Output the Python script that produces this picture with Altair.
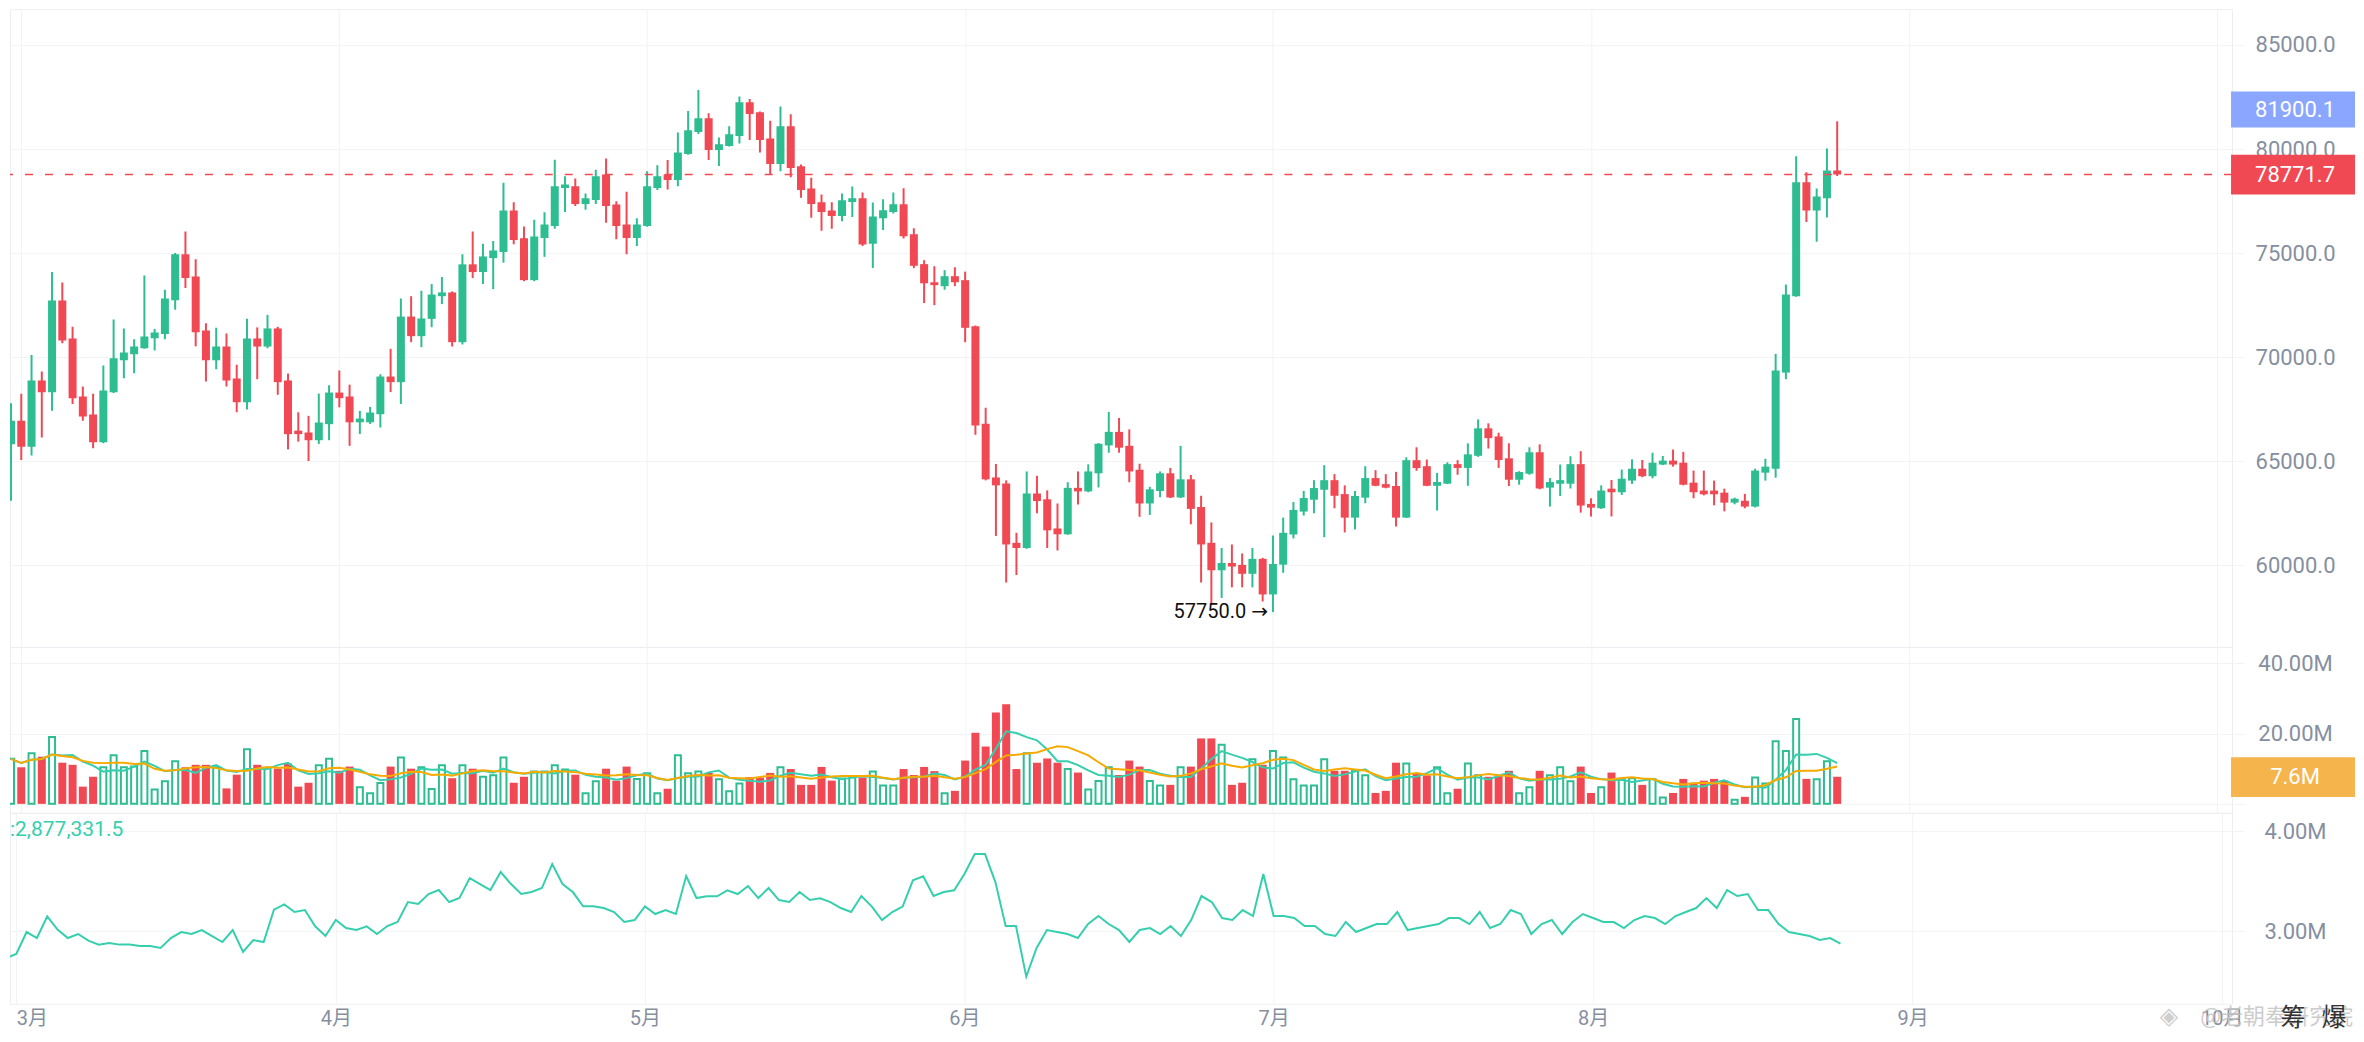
import altair as alt
import pandas as pd

# ---------------- data ----------------
day_index = list(range(1, 180))

opens = [65820, 66950, 65700, 68880, 68320, 72720, 70900, 68110, 67240, 65910,
         68320, 69850, 70140, 70430, 70910, 71110, 72740, 74950, 73880, 71280,
         69850, 70510, 68970, 67830, 70900, 70510, 71380, 68880, 66470, 66380,
         66010, 66780, 68300, 68110, 66870, 66870, 67260, 69070, 68800, 71950,
         71010, 71840, 72930, 73110, 70720, 74460, 74090, 74760, 75050, 77050,
         75710, 73700, 75720, 76300, 78130, 78210, 77360, 77550, 78780, 77340,
         76380, 75720, 76300, 78130, 78780, 78510, 79760, 80820, 81480, 79950,
         80150, 80630, 82250, 81770, 80510, 79280, 81090, 79170, 78110, 77440,
         77050, 76780, 77450, 77640, 75450, 76680, 76970, 77350, 75910, 74470,
         73600, 73410, 73890, 73700, 71490, 66800, 64220, 63930, 61080, 60830,
         63450, 63170, 61770, 61490, 63720, 63550, 64420, 65760, 66410, 65740,
         64590, 62970, 63570, 64420, 63260, 64130, 62800, 61080, 59760, 60110,
         60020, 59590, 60310, 58600, 60030, 61480, 62580, 63150, 63630, 64090,
         63420, 62290, 63250, 64190, 63900, 63810, 62290, 65050, 64760, 63820,
         63920, 64860, 64680, 65260, 66580, 66190, 65140, 64110, 64400, 65430,
         63730, 63920, 63920, 64860, 62950, 62740, 63680, 63510, 64070, 64640,
         64280, 64840, 65030, 64930, 63970, 63590, 63590, 63490, 63010, 63100,
         62820, 64450, 64640, 69260, 72930, 78400, 77050, 77630, 78970]

highs = [67790, 68240, 70110, 69310, 74090, 73590, 71460, 68590, 68240, 69600,
         71810, 71380, 70860, 73930, 71350, 73240, 75000, 76040, 74700, 71630,
         71410, 71140, 69630, 71840, 71430, 72030, 71460, 69210, 67350, 67180,
         68250, 68650, 69360, 68680, 67420, 67610, 69180, 70400, 72820, 72930,
         73190, 73510, 73850, 73160, 74940, 76040, 75450, 75580, 78380, 77440,
         76280, 76600, 76960, 79490, 78690, 78590, 77870, 79010, 79540, 77490,
         77950, 76670, 78930, 79220, 79470, 80800, 81830, 82840, 81720, 80560,
         81090, 82520, 82410, 81810, 81360, 82050, 81670, 79260, 78620, 77820,
         77440, 77860, 78200, 77910, 77430, 77590, 77910, 78120, 76200, 74660,
         74370, 74180, 74320, 74110, 71520, 67570, 64870, 64080, 61560, 64510,
         64300, 63600, 62970, 63990, 64510, 64850, 65870, 67370, 67080, 66530,
         64880, 63770, 64510, 64680, 65740, 64340, 63340, 62060, 60830, 61000,
         60570, 60830, 60360, 61430, 62290, 63040, 63570, 64090, 64810, 64380,
         63840, 63570, 64760, 64570, 64380, 64490, 65190, 65670, 65080, 64440,
         64950, 65050, 65860, 67010, 66820, 66370, 65860, 64520, 65670, 65810,
         64190, 64840, 65240, 65480, 63220, 63840, 64100, 64600, 65090, 65060,
         65410, 65250, 65560, 65450, 64550, 64550, 64070, 63680, 63250, 63430,
         64640, 65120, 70160, 73490, 79650, 78880, 78110, 80030, 81330]

lows = [63100, 65060, 65270, 66140, 67420, 70670, 67750, 66950, 65620, 65860,
        68280, 68990, 69230, 70400, 70320, 70860, 72280, 73320, 70530, 68830,
        69420, 68590, 67350, 67480, 68940, 70430, 68190, 65570, 65940, 65010,
        65830, 66010, 67590, 65740, 66310, 66790, 66620, 68320, 67750, 70720,
        70480, 71440, 72550, 70510, 70610, 73800, 73510, 73270, 74540, 75430,
        73650, 73650, 74820, 76170, 76970, 77260, 77080, 77360, 76460, 75670,
        74950, 75340, 76270, 78030, 78060, 78210, 79730, 80720, 79470, 79180,
        80120, 80270, 80430, 79830, 78750, 78930, 78640, 77660, 76700, 76070,
        76170, 76530, 76730, 75340, 74280, 76110, 76900, 75700, 74280, 72600,
        72500, 73240, 73410, 70720, 66270, 64080, 61410, 59170, 59530, 60790,
        62500, 60830, 60710, 61460, 62920, 63510, 63740, 65410, 65410, 63990,
        62330, 62420, 63270, 63230, 63230, 61970, 59170, 58100, 58430, 58940,
        58940, 58940, 58260, 57750, 59640, 61290, 62390, 62500, 61350, 62740,
        61580, 61720, 62980, 63800, 63700, 61860, 62270, 64540, 63800, 62630,
        63900, 64350, 63820, 65210, 65610, 64680, 63810, 63870, 64350, 63650,
        62820, 63330, 63690, 62530, 62340, 62710, 62350, 63380, 63910, 64230,
        64180, 64810, 64740, 63840, 63220, 63360, 62880, 62590, 62930, 62740,
        62780, 64070, 64210, 68940, 72900, 76490, 75540, 76710, 78700]

closes = [66950, 65700, 68880, 68320, 72720, 70800, 68030, 67150, 65910, 68400,
          69950, 70220, 70510, 70990, 71190, 72820, 74950, 73800, 71200, 69850,
          70510, 68880, 67830, 70900, 70510, 71380, 68800, 66300, 66300, 66010,
          66860, 68300, 68030, 66870, 67050, 67340, 69070, 68800, 71950, 71010,
          71860, 73010, 73110, 70720, 74460, 74090, 74840, 75130, 77050, 75630,
          73700, 75800, 76380, 78210, 78300, 77360, 77630, 78690, 77260, 76300,
          75720, 76380, 78210, 78690, 78510, 79840, 80900, 81480, 79950, 80230,
          80710, 82250, 81680, 80430, 79280, 81090, 79090, 78030, 77360, 76970,
          76780, 77540, 77640, 75410, 76760, 77060, 77350, 75810, 74390, 73550,
          73460, 73890, 73600, 71410, 66720, 64130, 63840, 61000, 60830, 63450,
          63090, 61680, 61490, 63720, 63550, 64510, 65840, 66410, 65650, 64510,
          62970, 63650, 64420, 63260, 64130, 62710, 61000, 59760, 60110, 59940,
          59590, 60310, 58600, 60060, 61560, 62660, 63230, 63710, 64090, 63340,
          62290, 63330, 64190, 63820, 63730, 62290, 65050, 64670, 63820, 64000,
          64860, 64680, 65330, 66580, 66110, 65060, 64110, 64480, 65430, 63690,
          64000, 64090, 64860, 62870, 62770, 63590, 63510, 64160, 64640, 64280,
          64930, 65030, 64840, 63870, 63510, 63410, 63410, 63010, 63200, 62820,
          64550, 64740, 69360, 73010, 78400, 77050, 77720, 78970, 78771.7]

# traded volume, millions
volume_m = [12.8, 10.4, 14.4, 13.4, 19.0, 11.7, 11.1, 4.9, 7.7, 10.4,
            13.8, 10.4, 10.6, 15.0, 4.1, 6.4, 12.1, 10.4, 11.1, 11.1,
            10.4, 4.4, 8.3, 15.5, 11.1, 10.2, 10.0, 11.5, 4.9, 6.0,
            11.0, 12.8, 9.4, 10.6, 4.7, 3.0, 5.9, 10.6, 13.2, 10.0,
            10.4, 4.2, 11.0, 7.3, 11.0, 10.0, 7.7, 8.1, 13.2, 6.0,
            7.7, 9.2, 9.2, 11.0, 9.8, 8.3, 3.0, 6.4, 10.0, 6.6,
            10.6, 7.1, 8.7, 3.0, 4.3, 13.8, 8.7, 9.2, 8.8, 7.0,
            3.6, 5.8, 7.6, 7.5, 8.8, 10.4, 9.9, 5.4, 5.4, 10.5,
            6.6, 7.2, 7.6, 7.5, 9.2, 5.2, 5.2, 9.9, 8.2, 10.5,
            9.3, 3.0, 3.7, 12.3, 20.2, 16.3, 26.0, 28.3, 9.9, 14.4,
            11.7, 12.9, 11.7, 9.9, 8.9, 4.1, 6.5, 10.4, 8.2, 12.3,
            10.6, 6.5, 5.2, 5.4, 10.4, 10.6, 18.6, 18.6, 16.8, 5.4,
            6.0, 12.7, 11.1, 15.0, 13.2, 7.0, 5.2, 5.2, 12.7, 9.4,
            9.4, 9.4, 8.1, 3.1, 3.7, 11.7, 11.5, 8.7, 8.1, 10.4,
            3.0, 4.3, 11.5, 8.1, 7.7, 8.0, 9.4, 3.0, 4.7, 9.4,
            8.1, 10.4, 6.4, 10.6, 3.1, 4.7, 8.9, 7.0, 7.3, 5.4,
            7.0, 1.8, 3.1, 7.1, 6.0, 6.6, 7.1, 6.6, 1.2, 2.0,
            7.5, 5.8, 17.8, 15.0, 24.1, 7.1, 7.0, 12.1, 7.7]

# lower indicator line, millions
indicator_m = [2.733, 2.773, 2.993, 2.933, 3.150, 3.017, 2.933, 2.973, 2.907, 2.867,
               2.883, 2.867, 2.867, 2.853, 2.853, 2.833, 2.933, 2.993, 2.973, 3.013,
               2.953, 2.893, 3.013, 2.793, 2.913, 2.893, 3.217, 3.270, 3.193, 3.213,
               3.050, 2.953, 3.113, 3.033, 3.013, 3.050, 2.973, 3.053, 3.093, 3.293,
               3.273, 3.373, 3.413, 3.293, 3.333, 3.533, 3.473, 3.413, 3.593, 3.473,
               3.373, 3.393, 3.433, 3.673, 3.473, 3.393, 3.250, 3.250, 3.233, 3.193,
               3.093, 3.113, 3.250, 3.173, 3.213, 3.173, 3.553, 3.333, 3.350, 3.350,
               3.410, 3.373, 3.453, 3.333, 3.433, 3.313, 3.293, 3.393, 3.313, 3.330,
               3.293, 3.233, 3.193, 3.353, 3.250, 3.113, 3.193, 3.247, 3.510, 3.550,
               3.353, 3.393, 3.410, 3.573, 3.773, 3.773, 3.493, 3.053, 3.053, 2.547,
               2.833, 3.013, 2.993, 2.973, 2.933, 3.073, 3.153, 3.073, 3.013, 2.893,
               3.013, 3.033, 2.973, 3.053, 2.953, 3.113, 3.353, 3.293, 3.133, 3.113,
               3.213, 3.153, 3.573, 3.153, 3.153, 3.133, 3.053, 3.053, 2.973, 2.953,
               3.093, 2.993, 3.033, 3.073, 3.073, 3.193, 3.013, 3.033, 3.053, 3.073,
               3.133, 3.133, 3.073, 3.193, 3.033, 3.073, 3.213, 3.173, 2.973, 3.073,
               3.113, 2.973, 3.093, 3.173, 3.133, 3.093, 3.093, 3.033, 3.113, 3.153,
               3.133, 3.073, 3.153, 3.193, 3.233, 3.333, 3.233, 3.413, 3.353, 3.373,
               3.213, 3.213, 3.073, 2.993, 2.973, 2.953, 2.913, 2.933, 2.877]

month_starts = [2, 33, 63, 94, 124, 155, 186, 216]
month_labels = ["3月", "4月", "5月", "6月", "7月", "8月", "9月", "10月"]
price_ticks = [60000, 65000, 70000, 75000, 80000, 85000]
volume_ticks = [0, 20, 40]
indicator_ticks = [3, 4]
last_price = 78771.7
marker_price = 81900.1
last_volume = 7.6
indicator_value = 2877331.5
watermark_text = "@老朝奉研究院"
side_buttons = ["筹", "爆"]

# ---------------- styling / layout ----------------
GREEN = "#2dbd91"
RED = "#f04954"
TEAL = "#36cfae"
ORANGE = "#f7aa00"
BLUE_TAG = "#8aa6ff"
ORANGE_TAG = "#f6b44d"
GRID = "#f2f3f5"
BORDER = "#eceef1"
LABEL = "#868fa0"
FONT = "Roboto"
CJK = "Roboto, 'Noto Sans CJK SC'"

W = 2223
H_MAIN, H_VOL, H_IND = 638, 166, 191

df = pd.DataFrame({"k": day_index, "open": opens, "high": highs, "low": lows,
                   "close": closes, "vol": volume_m, "ind": indicator_m})
df["dir"] = ["up" if c >= o else "down" for o, c in zip(opens, closes)]

xscale = alt.Scale(domain=[1.388, 217.0], nice=False, zero=False)
x_grid = alt.Axis(values=month_starts, grid=True, gridColor=GRID, labels=False,
                  ticks=False, domain=False, title=None)
month_expr = " : ".join(f"datum.value == {m} ? '{l}'" for m, l in zip(month_starts, month_labels)) + " : ''"
x_bottom = alt.Axis(values=month_starts, grid=True, gridColor=GRID, ticks=False,
                    domain=False, title=None, labelExpr=month_expr, labelFontSize=20,
                    labelColor=LABEL, labelFont=CJK, labelPadding=5, labelFlush=8)
X = alt.X("k:Q", scale=xscale, axis=x_grid)
Xb = alt.X("k:Q", scale=xscale, axis=x_bottom)
color = alt.Color("dir:N", scale=alt.Scale(domain=["up", "down"], range=[GREEN, RED]), legend=None)


def right_axis(values, fmt=None, expr=None):
    kw = dict(orient="right", values=values, grid=True, gridColor=GRID, tickSize=12,
              tickColor=GRID, domain=False, labelAlign="center", labelPadding=51,
              labelColor=LABEL, labelFontSize=22, labelFont=FONT, title=None)
    if fmt:
        kw["format"] = fmt
    if expr:
        kw["labelExpr"] = expr
    return alt.Axis(**kw)


# ---------------- price panel ----------------
pscale = alt.Scale(domain=[56076, 86719], nice=False, zero=False)
paxis = right_axis(price_ticks, fmt=".1f")
base = alt.Chart(df)

wicks = base.mark_rule(strokeWidth=2, clip=True).encode(
    x=X, y=alt.Y("low:Q", scale=pscale, axis=paxis), y2="high:Q", color=color)
bodies = base.mark_bar(size=8, clip=True).encode(
    x=X, y=alt.Y("open:Q", scale=pscale, axis=paxis), y2="close:Q", color=color)
last_line = alt.Chart(pd.DataFrame({"v": [last_price]})).mark_rule(
    color=RED, strokeWidth=1.5, strokeDash=[8, 12]).encode(
    y=alt.Y("v:Q", scale=pscale, axis=paxis))


def price_tag(value, fill, half):
    t = alt.Chart(pd.DataFrame({"v": [value]})).transform_calculate(
        top=f"datum.v + {half}", bot=f"datum.v - {half}")
    r = t.mark_rect(color=fill).encode(
        x=alt.value(2222), x2=alt.value(2346),
        y=alt.Y("top:Q", scale=pscale, axis=paxis), y2="bot:Q")
    s = t.mark_text(color="white", fontSize=22, font=FONT, align="center", baseline="middle").encode(
        x=alt.value(2286), y=alt.Y("v:Q", scale=pscale, axis=paxis), text=alt.Text("v:Q", format=".1f"))
    return r, s


mark_rect, mark_txt = price_tag(marker_price, BLUE_TAG, 860)
last_rect, last_txt = price_tag(last_price, RED, 960)

low_row = df[df["low"] == df["low"].min()]
low_text = alt.Chart(low_row).transform_calculate(
    lab="format(datum.low, '.1f') + ' →'").mark_text(
    align="right", baseline="middle", dx=-5, fontSize=20, font="Roboto, 'DejaVu Sans'", color="#111111").encode(
    x=X, y=alt.Y("low:Q", scale=pscale, axis=paxis), text="lab:N")

main = alt.layer(wicks, bodies, last_line, mark_rect, mark_txt, last_rect, last_txt,
                 low_text).properties(width=W, height=H_MAIN)

# ---------------- volume panel ----------------
vscale = alt.Scale(domain=[-2.56, 44.6], nice=False, zero=False)
vaxis = right_axis(volume_ticks, expr="datum.value == 0 ? '' : format(datum.value, '.2f') + 'M'")
vol_up = base.transform_filter("datum.dir == 'up'").mark_bar(
    size=6, fill="white", stroke=GREEN, strokeWidth=2, clip=True).encode(
    x=X, y=alt.Y("vol:Q", scale=vscale, axis=vaxis), y2=alt.datum(0))
vol_dn = base.transform_filter("datum.dir == 'down'").mark_bar(size=8, color=RED, clip=True).encode(
    x=X, y=alt.Y("vol:Q", scale=vscale, axis=vaxis), y2=alt.datum(0))
ma5 = base.transform_window(ma="mean(vol)", frame=[-4, 0], sort=[alt.SortField("k")]).mark_line(
    color=TEAL, strokeWidth=2, clip=True).encode(x=X, y=alt.Y("ma:Q", scale=vscale, axis=vaxis))
ma10 = base.transform_window(ma="mean(vol)", frame=[-9, 0], sort=[alt.SortField("k")]).mark_line(
    color=ORANGE, strokeWidth=2, clip=True).encode(x=X, y=alt.Y("ma:Q", scale=vscale, axis=vaxis))
vtag = alt.Chart(pd.DataFrame({"v": [last_volume]})).transform_calculate(
    top="datum.v + 5.68", bot="datum.v - 5.68", lab="format(datum.v, '.1f') + 'M'")
vtag_rect = vtag.mark_rect(color=ORANGE_TAG).encode(
    x=alt.value(2222), x2=alt.value(2346), y=alt.Y("top:Q", scale=vscale, axis=vaxis), y2="bot:Q")
vtag_text = vtag.mark_text(color="white", fontSize=22, font=FONT, align="center", baseline="middle").encode(
    x=alt.value(2286), y=alt.Y("v:Q", scale=vscale, axis=vaxis), text="lab:N")
vol = alt.layer(vol_up, vol_dn, ma5, ma10, vtag_rect, vtag_text).properties(width=W, height=H_VOL)

# ---------------- indicator panel ----------------
iscale = alt.Scale(domain=[2.275, 4.185], nice=False, zero=False)
iaxis = right_axis(indicator_ticks, expr="format(datum.value, '.2f') + 'M'")
ind_line = base.mark_line(color=TEAL, strokeWidth=2, clip=True).encode(
    x=Xb, y=alt.Y("ind:Q", scale=iscale, axis=iaxis))
ind_label = alt.Chart(pd.DataFrame({"v": [indicator_value]})).transform_calculate(
    lab="':' + format(datum.v, ',.1f')").mark_text(
    align="left", baseline="middle", fontSize=21, font=FONT, color=TEAL).encode(
    x=alt.value(0), y=alt.value(17), text="lab:N")
wm = alt.Chart(pd.DataFrame({"t": [watermark_text]})).mark_text(
    align="right", baseline="middle", fontSize=22, font="'Noto Sans CJK SC'", color="#c4c4c4",
    opacity=0.85).encode(x=alt.value(2344), y=alt.value(204), text="t:N")
wm_icon = alt.Chart(pd.DataFrame({"t": ["◈"]})).mark_text(
    align="center", baseline="middle", fontSize=24, font="'DejaVu Sans'", color="#cfcfcf").encode(
    x=alt.value(2160), y=alt.value(204), text="t:N")
btn_df = pd.DataFrame({"t": side_buttons, "i": [0, 1]})
btns = alt.Chart(btn_df).transform_calculate(px="2284 + datum.i * 41").mark_text(
    align="center", baseline="middle", fontSize=25, font="'Noto Sans CJK SC'", color="#333333").encode(
    x=alt.X("px:Q", scale=None), y=alt.value(205), text="t:N")
ind = alt.layer(ind_line, ind_label, wm_icon, wm, btns).properties(width=W, height=H_IND)

chart = alt.vconcat(main, vol, ind, spacing=0, bounds="flush").properties(
    padding=0, background="white").configure_view(stroke=BORDER, strokeWidth=1)

chart.save("out.html", embed_options={"renderer": "svg", "actions": False})
